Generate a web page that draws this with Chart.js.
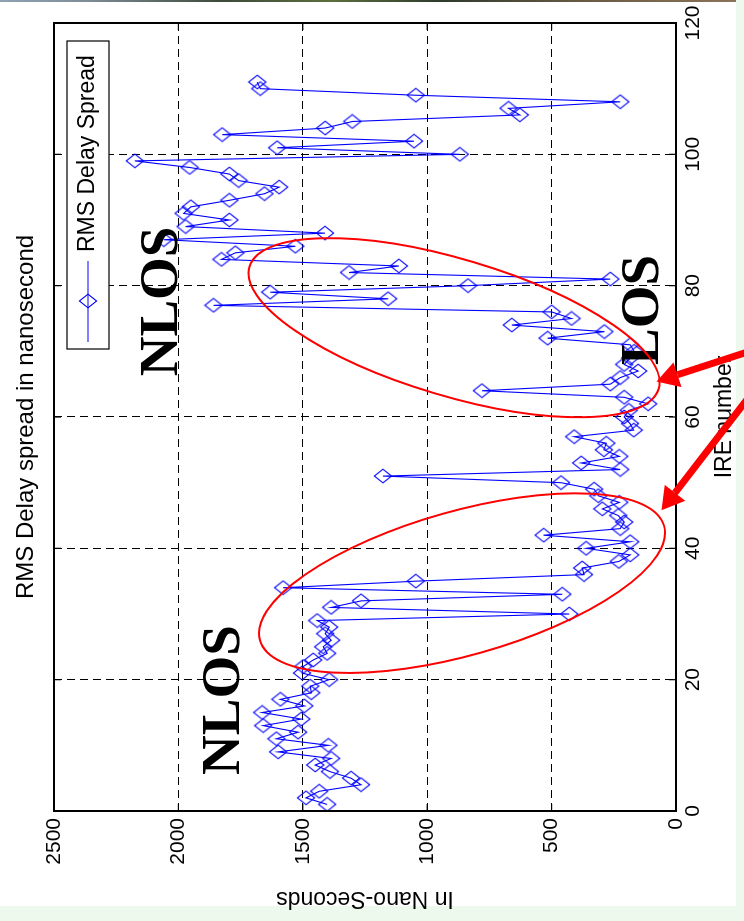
<!DOCTYPE html>
<html>
<head>
<meta charset="utf-8">
<script src="https://cdn.jsdelivr.net/npm/chart.js@4.4.1/dist/chart.umd.min.js"></script>
<style>
  html, body { margin: 0; padding: 0; }
  body { width: 744px; height: 921px; background: #eef9ee; position: relative; overflow: hidden; }
  #sheet { position: absolute; left: 0; top: 2px; width: 736px; height: 904px; background: #ffffff; }
  #strip { position: absolute; left: 0; top: 0; width: 736px; height: 2px;
           background: linear-gradient(90deg, #8fa2b4 0%, #7d8c96 12%, #3d4a3a 30%, #5d6e3e 45%, #2f3a2c 60%, #6b5b45 80%, #8a7458 100%); }
  /* the figure is laid out landscape and turned a quarter turn counter-clockwise */
  #wrap { position: absolute; left: 0; top: 0; width: 921px; height: 744px;
          transform-origin: 0 0; transform: translate(0px, 921px) rotate(-90deg); }
  canvas { display: block; }
  #probe { position: absolute; left: -9999px; top: 0; font: bold 55px "Liberation Serif"; }
</style>
</head>
<body>
<div id="sheet"></div>
<div id="strip"></div>
<div id="probe">NLOS</div>
<div id="wrap"><canvas id="c" width="921" height="744"></canvas></div>
<script>
// IRE measurement index and RMS delay spread (ns) for each measurement
const ireNumber = [
  1, 2, 3, 4, 5, 6, 7, 8, 9, 10,
  11, 12, 13, 14, 15, 16, 17, 18, 19, 20,
  21, 22, 23, 24, 25, 26, 27, 28, 29, 30,
  31, 32, 33, 34, 35, 36, 37, 38, 39, 40,
  41, 42, 43, 44, 45, 46, 47, 48, 49, 50,
  51, 52, 53, 54, 55, 56, 57, 58, 59, 60,
  61, 62, 63, 64, 65, 66, 67, 68, 69, 70,
  71, 72, 73, 74, 75, 76, 77, 78, 79, 80,
  81, 82, 83, 84, 85, 86, 87, 88, 89, 90,
  91, 92, 93, 94, 95, 96, 97, 98, 99, 100,
  101, 102, 103, 104, 105, 106, 107, 108, 109, 110,
  111
];
const rmsDelayNs = [
  1402, 1487, 1434, 1266, 1306, 1391, 1450, 1386, 1599, 1397,
  1606, 1519, 1659, 1506, 1663, 1494, 1590, 1466, 1470, 1394,
  1503, 1498, 1458, 1402, 1418, 1386, 1410, 1394, 1442, 429,
  1386, 1266, 457, 1579, 1046, 370, 377, 230, 184, 361,
  184, 532, 224, 208, 232, 296, 228, 312, 329, 462,
  1178, 224, 381, 228, 290, 280, 409, 170, 185, 208,
  190, 112, 208, 780, 264, 224, 152, 208, 184, 168,
  184, 516, 288, 660, 420, 500, 1859, 1157, 1631, 836,
  264, 1314, 1114, 1827, 1771, 1530, 2059, 1411, 1971, 1795,
  1979, 1950, 1795, 1654, 1595, 1758, 1795, 1955, 2175, 869,
  1603, 1053, 1824, 1410, 1301, 628, 673, 224, 1046, 1671,
  1683
];
const ireTicks = [0, 20, 40, 60, 80, 100, 120];
const nsTicks = [0, 500, 1000, 1500, 2000, 2500];

const SANS = "'Liberation Sans', Arial, Helvetica, sans-serif";
const SERIF = "'Liberation Serif', 'Times New Roman', Times, serif";
const BLUE = '#0000ff';
const RED = '#ff0000';

// open diamond marker, a little taller than wide
function diamondSprite(halfW, halfH, color) {
  const c = document.createElement('canvas');
  c.width = Math.ceil(halfW * 2 + 2);
  c.height = Math.ceil(halfH * 2 + 2);
  const g = c.getContext('2d');
  const cx = c.width / 2, cy = c.height / 2;
  g.strokeStyle = color;
  g.lineWidth = 1.15;
  g.beginPath();
  g.moveTo(cx - halfW, cy);
  g.lineTo(cx, cy - halfH);
  g.lineTo(cx + halfW, cy);
  g.lineTo(cx, cy + halfH);
  g.closePath();
  g.stroke();
  return c;
}
const marker = diamondSprite(6.8, 8.6, BLUE);

function strokeLine(ctx, x1, y1, x2, y2) {
  ctx.beginPath(); ctx.moveTo(x1, y1); ctx.lineTo(x2, y2); ctx.stroke();
}

function drawArrow(ctx, tipX, tipY, angle, length, shaft, headLen, headHalf) {
  // angle points from the tip back toward the tail
  const ux = Math.cos(angle), uy = Math.sin(angle);
  const px = -uy, py = ux;
  const bx = tipX + ux * headLen, by = tipY + uy * headLen;
  const tx = tipX + ux * length, ty = tipY + uy * length;
  ctx.beginPath();
  ctx.moveTo(bx + px * shaft / 2, by + py * shaft / 2);
  ctx.lineTo(tx + px * shaft / 2, ty + py * shaft / 2);
  ctx.lineTo(tx - px * shaft / 2, ty - py * shaft / 2);
  ctx.lineTo(bx - px * shaft / 2, by - py * shaft / 2);
  ctx.closePath();
  ctx.fill();
  ctx.beginPath();
  ctx.moveTo(tipX, tipY);
  ctx.lineTo(bx + px * headHalf, by + py * headHalf);
  ctx.lineTo(bx - px * headHalf, by - py * headHalf);
  ctx.closePath();
  ctx.fill();
}

const deg = Math.PI / 180;

// axes box, inward ticks, legend and the LOS / NLOS markup
const figureDecor = {
  id: 'figureDecor',
  afterDraw(chart) {
    const ctx = chart.ctx;
    const a = chart.chartArea;
    const xs = chart.scales.x, ys = chart.scales.y;
    ctx.save();

    ctx.strokeStyle = '#000';
    ctx.lineWidth = 1.2;
    ireTicks.forEach(t => {
      const p = xs.getPixelForValue(t);
      strokeLine(ctx, p, a.bottom, p, a.bottom - 7);
      strokeLine(ctx, p, a.top, p, a.top + 7);
    });
    nsTicks.forEach(t => {
      const p = ys.getPixelForValue(t);
      strokeLine(ctx, a.left, p, a.left + 7, p);
      strokeLine(ctx, a.right, p, a.right - 7, p);
    });
    ctx.lineWidth = 2;
    ctx.strokeRect(a.left, a.top, a.right - a.left, a.bottom - a.top);

    // legend
    const lw = 308, lh = 42;
    const lx = a.right - 18 - lw, ly = a.top + 13;
    ctx.fillStyle = '#fff';
    ctx.fillRect(lx, ly, lw, lh);
    ctx.lineWidth = 1.2;
    ctx.strokeStyle = '#000';
    ctx.strokeRect(lx, ly, lw, lh);
    const midY = ly + lh / 2;
    ctx.strokeStyle = BLUE;
    ctx.lineWidth = 1.1;
    strokeLine(ctx, lx + 7, midY, lx + 88, midY);
    ctx.drawImage(marker, lx + 48 - marker.width / 2, midY - marker.height / 2);
    ctx.fillStyle = '#000';
    ctx.font = '23px ' + SANS;
    ctx.textAlign = 'left';
    ctx.textBaseline = 'middle';
    ctx.fillText('RMS Delay Spread', lx + 97, midY);

    // region labels
    ctx.font = 'bold 55px ' + SERIF;
    ctx.textAlign = 'center';
    ctx.textBaseline = 'alphabetic';
    ctx.fillText('NLOS', xs.getPixelForValue(77.6), ys.getPixelForValue(2005));
    ctx.fillText('NLOS', xs.getPixelForValue(16.9), ys.getPixelForValue(1756));
    ctx.fillText('LOS', xs.getPixelForValue(76.3), ys.getPixelForValue(72));

    // ellipses around the LOS clusters
    ctx.strokeStyle = RED;
    ctx.lineWidth = 2;
    ctx.beginPath();
    ctx.ellipse(xs.getPixelForValue(73.6), ys.getPixelForValue(892), 213.5, 68.4, 106.6 * deg, 0, Math.PI * 2);
    ctx.stroke();
    ctx.beginPath();
    ctx.ellipse(xs.getPixelForValue(34.7), ys.getPixelForValue(860), 210, 72, 74.2 * deg, 0, Math.PI * 2);
    ctx.stroke();

    // arrows pointing at the ellipses
    ctx.fillStyle = RED;
    drawArrow(ctx, xs.getPixelForValue(65.4), ys.getPixelForValue(78), Math.atan2(0.951, 0.309), 120, 7, 22, 13);
    drawArrow(ctx, xs.getPixelForValue(45.8), ys.getPixelForValue(58), Math.atan2(0.611, 0.792), 160, 7, 22, 13);

    ctx.restore();
  }
};

Chart.defaults.font.family = SANS;
Chart.defaults.color = '#000';

function build() {
  new Chart(document.getElementById('c'), {
    type: 'scatter',
    data: {
      datasets: [{
        label: 'RMS Delay Spread',
        data: ireNumber.map((n, i) => ({ x: n, y: rmsDelayNs[i] })),
        showLine: true,
        borderColor: BLUE,
        borderWidth: 1.1,
        pointStyle: marker,
        pointRadius: 8,
        pointBorderColor: BLUE,
        pointBackgroundColor: 'rgba(0,0,0,0)',
        tension: 0
      }]
    },
    options: {
      responsive: false,
      animation: false,
      devicePixelRatio: 1,
      layout: { padding: { left: 0, right: 23, top: 0, bottom: 0 } },
      plugins: {
        legend: { display: false },
        tooltip: { enabled: false },
        title: {
          display: true,
          fullSize: false,
          text: 'RMS Delay spread in nanosecond',
          color: '#000',
          font: { size: 24, weight: 'normal', family: SANS },
          padding: { top: 12, bottom: 13.2 }
        }
      },
      scales: {
        x: {
          type: 'linear',
          position: 'bottom',
          min: 0, max: 120,
          afterBuildTicks: s => { s.ticks = ireTicks.map(v => ({ value: v })); },
          afterFit: s => { s.height = 68; },
          ticks: { font: { size: 21 }, color: '#000', padding: 5, maxRotation: 0, callback: v => String(v) },
          grid: { color: '#000', lineWidth: 1, drawTicks: false },
          border: { display: false, dash: [8, 5] },
          title: { display: true, text: 'IRE number', color: '#000', font: { size: 23 }, padding: { top: 5, bottom: 5.2 } }
        },
        y: {
          type: 'linear',
          position: 'left',
          min: 0, max: 2500,
          afterBuildTicks: s => { s.ticks = nsTicks.map(v => ({ value: v })); },
          afterFit: s => { s.width = 110; },
          ticks: { font: { size: 21 }, color: '#000', padding: 7, callback: v => String(v) },
          grid: { color: '#000', lineWidth: 1, drawTicks: false },
          border: { display: false, dash: [8, 5] },
          title: { display: true, text: 'In Nano-Seconds', color: '#000', font: { size: 23 }, padding: { top: 9.2, bottom: 0 } }
        }
      }
    },
    plugins: [figureDecor]
  });
}

const fontReady = (document.fonts && document.fonts.load)
  ? Promise.all([
      document.fonts.load("bold 55px 'Liberation Serif'"),
      document.fonts.load("23px 'Liberation Sans'")
    ]).catch(() => null)
  : Promise.resolve();
fontReady.then(build, build);
</script>
</body>
</html>
